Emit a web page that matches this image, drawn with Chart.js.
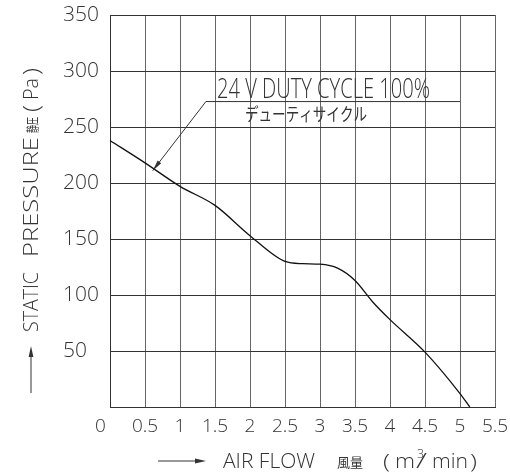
<!DOCTYPE html>
<html>
<head>
<meta charset="utf-8">
<script src="https://cdn.jsdelivr.net/npm/chart.js@4/dist/chart.umd.min.js"></script>
<style>
  html, body { margin: 0; padding: 0; background: #fff; }
  #pqChart { display: block; }
</style>
</head>
<body>
<canvas id="pqChart" width="510" height="472"></canvas>
<script>
// air flow (m3/min) and static pressure (Pa)
const flow = [0, 0.5, 1, 1.5, 2, 2.5, 2.75, 3, 3.25, 3.5, 3.75, 4, 4.5, 5, 5.14];
const pressure = [238, 218, 197, 180, 153, 130, 128, 127.5, 124, 113, 94, 78, 49, 12, 0];

const xTicks = [0, 0.5, 1, 1.5, 2, 2.5, 3, 3.5, 4, 4.5, 5, 5.5];
const xTickLabels = ["0", "0.5", "1", "1.5", "2", "2.5", "3", "3.5", "4", "4.5", "5", "5.5"];
const yTicks = [0, 50, 100, 150, 200, 250, 300, 350];
const yTickLabels = ["", "50", "100", "150", "200", "250", "300", "350"];

const curveLabel = "24 V DUTY CYCLE 100%";
const curveLabelJa = "デューティサイクル";

const INK = "#333";
const FONT = "'Open Sans', 'Liberation Sans'";

function fitText(ctx, text, x, y, font, width) {
  ctx.font = font;
  const w = ctx.measureText(text).width;
  ctx.save();
  ctx.translate(x, y);
  ctx.scale(width / w, 1);
  ctx.fillText(text, 0, 0);
  ctx.restore();
}

function arrowHead(ctx, fromX, fromY, tipX, tipY, len, half) {
  const a = Math.atan2(tipY - fromY, tipX - fromX);
  ctx.beginPath();
  ctx.moveTo(tipX, tipY);
  ctx.lineTo(tipX - len * Math.cos(a) + half * Math.sin(a), tipY - len * Math.sin(a) - half * Math.cos(a));
  ctx.lineTo(tipX - len * Math.cos(a) - half * Math.sin(a), tipY - len * Math.sin(a) + half * Math.cos(a));
  ctx.closePath();
  ctx.fill();
}

// axis titles and the curve callout, drawn by hand (condensed CAD look)
const drawingText = {
  id: "drawingText",
  afterDraw(chart) {
    const ctx = chart.ctx;
    const xs = chart.scales.x;
    const ys = chart.scales.y;
    const f = (px) => "300 " + px + "px " + FONT;
    ctx.save();
    ctx.fillStyle = INK;
    ctx.strokeStyle = INK;
    ctx.lineWidth = 1;
    ctx.textAlign = "left";
    ctx.textBaseline = "alphabetic";

    // callout: arrow from curve up to the label
    const tipX = xs.getPixelForValue(0.61), tipY = ys.getPixelForValue(211);
    const elbowX = xs.getPixelForValue(1.37), elbowY = ys.getPixelForValue(272.7);
    const endX = xs.getPixelForValue(5.0);
    ctx.beginPath();
    ctx.moveTo(endX, elbowY);
    ctx.lineTo(elbowX, elbowY);
    ctx.lineTo(tipX, tipY);
    ctx.stroke();
    arrowHead(ctx, elbowX, elbowY, tipX, tipY, 11, 2.2);
    fitText(ctx, curveLabel, 217, 98, f(28), 213);
    fitText(ctx, curveLabelJa, 245, 121, "18px 'Noto Sans CJK JP'", 122);

    // x title
    ctx.beginPath();
    ctx.moveTo(158, 461);
    ctx.lineTo(200, 461);
    ctx.stroke();
    arrowHead(ctx, 158, 461, 206, 461, 11, 2.6);
    fitText(ctx, "AIR FLOW", 223, 468, f(21), 92);
    fitText(ctx, "風量", 337, 467, "13px 'Noto Sans CJK JP'", 26);
    fitText(ctx, "(", 383, 469, f(21), 7);
    fitText(ctx, "m", 395, 468, f(21), 20);
    fitText(ctx, "3", 417, 458, f(12), 7);
    fitText(ctx, "/", 416, 468, f(21), 11);
    fitText(ctx, "min", 432, 468, f(21), 36);
    fitText(ctx, ")", 470, 469, f(21), 7);

    // y title (rotated)
    ctx.beginPath();
    ctx.moveTo(31, 393);
    ctx.lineTo(31, 352);
    ctx.stroke();
    arrowHead(ctx, 31, 393, 31, 346, 11, 2.4);
    ctx.save();
    ctx.translate(38, 332);
    ctx.rotate(-Math.PI / 2);
    fitText(ctx, "STATIC", 0, 0, f(21), 60);
    fitText(ctx, "PRESSURE", 75, 0, f(21), 120);
    fitText(ctx, "静圧", 199, -1, "13px 'Noto Sans CJK JP'", 16);
    fitText(ctx, "(", 220, 1, f(22), 7);
    fitText(ctx, "Pa", 232, 0, f(21), 22);
    fitText(ctx, ")", 257, 1, f(22), 7);
    ctx.restore();

    ctx.restore();
  },
};

const ctx = document.getElementById("pqChart").getContext("2d");
new Chart(ctx, {
  type: "line",
  data: {
    datasets: [
      {
        data: flow.map((f, i) => ({ x: f, y: pressure[i] })),
        borderColor: "#111",
        borderWidth: 1.3,
        pointRadius: 0,
        fill: false,
        cubicInterpolationMode: "monotone",
      },
    ],
  },
  options: {
    responsive: false,
    animation: false,
    layout: { padding: { left: 63, right: 15, top: 15, bottom: 0 } },
    plugins: {
      legend: { display: false },
      tooltip: { enabled: false },
    },
    scales: {
      x: {
        type: "linear",
        min: 0,
        max: 5.5,
        afterBuildTicks: (s) => { s.ticks = xTicks.map((v) => ({ value: v })); },
        afterFit: (s) => {
          s.height = 65;
          s.paddingLeft = 0;
          s.paddingRight = 0;
        },
        grid: { color: "#666", lineWidth: 1, drawTicks: false },
        border: { color: INK, width: 1 },
        ticks: {
          padding: 8,
          color: INK,
          font: { family: FONT, size: 19, weight: 300 },
          maxRotation: 0,
          autoSkip: false,
          callback: (v) => {
            const i = xTicks.indexOf(v);
            const t = xTickLabels[i];
            return i === 0 ? t + "\u2002\u2002" : t;
          },
        },
      },
      y: {
        min: 0,
        max: 350,
        afterBuildTicks: (s) => { s.ticks = yTicks.map((v) => ({ value: v })); },
        afterFit: (s) => {
          s.width = 47;
          s.paddingTop = 0;
          s.paddingBottom = 0;
        },
        grid: { color: INK, lineWidth: 1, drawTicks: false },
        border: { color: INK, width: 1 },
        ticks: {
          crossAlign: "far",
          padding: 10,
          color: INK,
          font: { family: FONT, size: 21, weight: 300 },
          autoSkip: false,
          callback: (v) => yTickLabels[yTicks.indexOf(v)],
        },
      },
    },
  },
  plugins: [drawingText],
});
</script>
</body>
</html>
